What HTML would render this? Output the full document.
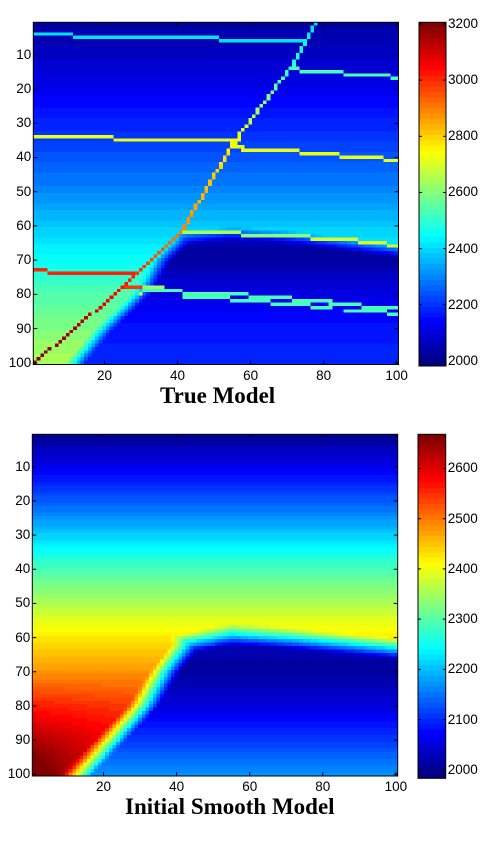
<!DOCTYPE html>
<html><head><meta charset="utf-8">
<style>
body{margin:0;background:#fff;width:491px;height:843px;position:relative;overflow:hidden;font-family:"Liberation Sans",sans-serif;}
canvas{position:absolute;image-rendering:pixelated;}
.lbl{position:absolute;font-size:13.5px;color:#000;line-height:14px;white-space:nowrap}
.title{position:absolute;font-family:"Liberation Serif",serif;font-weight:bold;font-size:23px;color:#000;white-space:nowrap}
svg{position:absolute;left:0;top:0}
</style></head>
<body>
<canvas id="c1" width="100" height="100" style="left:33.3px;top:22.3px;width:365.2px;height:342.2px"></canvas>
<canvas id="cb1" width="1" height="64" style="left:419px;top:22.3px;width:27px;height:343.7px"></canvas>
<canvas id="c2" width="100" height="100" style="left:32.3px;top:434.3px;width:365.4px;height:341.7px"></canvas>
<canvas id="cb2" width="1" height="64" style="left:418px;top:434.3px;width:27.7px;height:344px"></canvas>
<svg id="ov" width="491" height="843"></svg>
<div class="title" style="left:160px;top:383px">True Model</div>
<div class="title" style="left:125px;top:794px">Initial Smooth Model</div>
<script>
// ---- data ----
const tickRows=[10,20,30,40,50,60,70,80,90,100];
const tickCols=[20,40,60,80,100];
const cb1Ticks=[2000,2200,2400,2600,2800,3000,3200];
const cb2Ticks=[2000,2100,2200,2300,2400,2500,2600];
const cb1Range=[1982,3206];
const cb2Range=[1983,2668];
// true model
const trueBgRows=[0,10,20,30,40,50,60,70,80,90,100];
const trueBgVals=[2030,2070,2120,2180,2240,2300,2380,2450,2540,2590,2650];
const trueLowRows=[60,70,80,90,100];
const trueLowVals=[2060,2030,2110,2160,2190];
const trueTopCols=[40,55,70,85,100];
const trueTopRows=[63,61.5,62.5,64.5,66.5];
const trueEdgeRows=[62,65,70,80,90,100];
const trueEdgeCols=[42,40,35,29,19,11];
// fault trace and velocities
const faultTraceRows=[1,14,35,62,80,100];
const faultTraceCols=[78,71,56,41,23,1];
const faultRows=[1,15,35,55,62,75,90,100];
const faultVals=[2400,2500,2750,2850,2900,3000,3150,3200];
// layers: [row, colStart, colEnd, value]
const layers=[
[4,1,11,2420],[5,12,51,2420],[6,52,75,2420],
[14,71,73,2530],[15,74,85,2530],[16,86,98,2530],[17,99,100,2530],
[34,1,22,2720],[35,23,57,2720],[36,56,56,2720],[37,56,58,2720],[38,58,73,2720],[39,74,84,2720],[40,85,96,2720],[41,97,100,2720],
[62,41,57,2650],[63,58,76,2600],[64,77,89,2700],[65,90,97,2700],[66,98,100,2700],
[73,1,4,3000],[74,5,29,3000],[78,25,30,2980],[78,31,36,2620],
[79,31,41,2520],[80,30,30,2700],[80,42,59,2520],[81,42,54,2520],[81,60,71,2520],[82,55,65,2520],[82,72,82,2520],
[83,66,76,2520],[83,82,90,2520],[84,77,82,2520],[84,91,100,2520],[85,86,97,2520],[86,98,100,2520]];
// smooth model
const smBgRows=[0,10,20,30,40,50,60,70,80,90,100];
const smBgVals=[1995,2060,2130,2210,2290,2355,2425,2480,2540,2590,2630];
const smLowRows=[60,70,80,90,100];
const smLowVals=[2030,2008,2050,2110,2170];
const smTopCols=[40,55,70,85,100];
const smTopRows=[60,57,58,59.5,61];
const smEdgeRows=[62,70,80,90,100];
const smEdgeCols=[40,34,28,19,10];

function interp(xs,ys,x){
  if(x<=xs[0])return ys[0];
  for(let i=1;i<xs.length;i++){if(x<=xs[i]){const t=(x-xs[i-1])/(xs[i]-xs[i-1]);return ys[i-1]+t*(ys[i]-ys[i-1]);}}
  return ys[ys.length-1];
}
function clamp(v){return Math.max(0,Math.min(1,v));}
function jet(t){
  t=Math.floor(clamp(t)*63.999)/63;
  const r=clamp(1.5-Math.abs(4*t-3)),g=clamp(1.5-Math.abs(4*t-2)),b=clamp(1.5-Math.abs(4*t-1));
  return `rgb(${Math.round(r*255)},${Math.round(g*255)},${Math.round(b*255)})`;
}
function model(r,c,bgR,bgV,lowR,lowV,topC,topR,edR,edC,w){
  const base=interp(bgR,bgV,r);
  const low=interp(lowR,lowV,r);
  const ec=interp(edR,edC,r);
  const top=interp(topC,topR,c);
  const d=Math.min((c-ec)*1.2,(r-top)*1.6);
  const t=clamp((d+1.5)/w);
  return base+(low-base)*t;
}
function trueVal(r,c){
  let v=model(r,c,trueBgRows,trueBgVals,trueLowRows,trueLowVals,trueTopCols,trueTopRows,trueEdgeRows,trueEdgeCols,6);
  for(const L of layers){if(L[0]===r&&c>=L[1]&&c<=L[2])v=L[3];}
  const fc=Math.round(interp(faultTraceRows,faultTraceCols,r));
  if(c===fc)v=interp(faultRows,faultVals,r);
  return v;
}
function smVal(r,c){
  let v=model(r,c,smBgRows,smBgVals,smLowRows,smLowVals,smTopCols,smTopRows,smEdgeRows,smEdgeCols,10);
  const ec=interp(smEdgeRows,smEdgeCols,r);
  if(c<ec-1){v+=Math.max(0,(r-70)/30)*70*(1-c/ec);}
  return v;
}
function draw(id,fn,range){
  const ctx=document.getElementById(id).getContext('2d');
  for(let r=1;r<=100;r++)for(let c=1;c<=100;c++){
    ctx.fillStyle=jet((fn(r,c)-range[0])/(range[1]-range[0]));
    ctx.fillRect(c-1,r-1,1,1);
  }
}
function drawCb(id){
  const ctx=document.getElementById(id).getContext('2d');
  for(let i=0;i<64;i++){ctx.fillStyle=jet((63-i)/63);ctx.fillRect(0,i,1,1);}
}
draw('c1',trueVal,cb1Range);draw('c2',smVal,cb2Range);drawCb('cb1');drawCb('cb2');

const NS='http://www.w3.org/2000/svg';
const ov=document.getElementById('ov');
function line(x1,y1,x2,y2,name){
  const l=document.createElementNS(NS,'line');
  l.setAttribute('x1',x1);l.setAttribute('y1',y1);l.setAttribute('x2',x2);l.setAttribute('y2',y2);
  l.setAttribute('stroke','#000');l.setAttribute('stroke-width','1');
  
  
  ov.appendChild(l);
}
function rect(x,y,w,h,name){
  const e=document.createElementNS(NS,'rect');
  e.setAttribute('x',x);e.setAttribute('y',y);e.setAttribute('width',w);e.setAttribute('height',h);
  e.setAttribute('fill','none');e.setAttribute('stroke','#000');
  
  
  ov.appendChild(e);
}
function label(text,x,y,align,name){
  const d=document.createElement('div');d.className='lbl';d.textContent=text;
  
  
  d.style.top=(y-7)+'px';
  if(align==='right'){d.style.right=(491-x)+'px';}else if(align==='center'){d.style.left=(x-20)+'px';d.style.width='40px';d.style.textAlign='center';}else{d.style.left=x+'px';}
  document.body.appendChild(d);
}
function axes(L,T,R,B,tag){
  rect(L,T,R-L,B-T,tag+'-axes-frame');
  const ch=(B-T)/100,cw=(R-L)/100;
  for(const t of tickRows){
    const y=T+(t-0.5)*ch;
    line(L,y,L+4,y,tag+'-y-tick');line(R-4,y,R,y,tag+'-y-tick');
    label(String(t),L-2,y,'right',tag+'-y-tick-label');
  }
  for(const t of tickCols){
    const x=L+(t-0.5)*cw;
    line(x,B,x,B-4,tag+'-x-tick');line(x,T,x,T+4,tag+'-x-tick');
    label(String(t),x,B+11,'center',tag+'-x-tick-label');
  }
}
function cbar(L,T,R,B,range,ticks,tag){
  rect(L,T,R-L,B-T,tag+'-colorbar-frame');
  for(const t of ticks){
    const y=B-(t-range[0])/(range[1]-range[0])*(B-T);
    line(L,y,L+3,y,tag+'-cb-tick');line(R-3,y,R,y,tag+'-cb-tick');
    label(String(t),R+2,y,'left',tag+'-cb-tick-label');
  }
}
axes(33.3,22.3,398.5,364.5,'top');
cbar(419,22.3,446,366,cb1Range,cb1Ticks,'top');
axes(32.3,434.3,397.7,776,'bottom');
cbar(418,434.3,445.7,778.3,cb2Range,cb2Ticks,'bottom');
</script>
</body></html>
